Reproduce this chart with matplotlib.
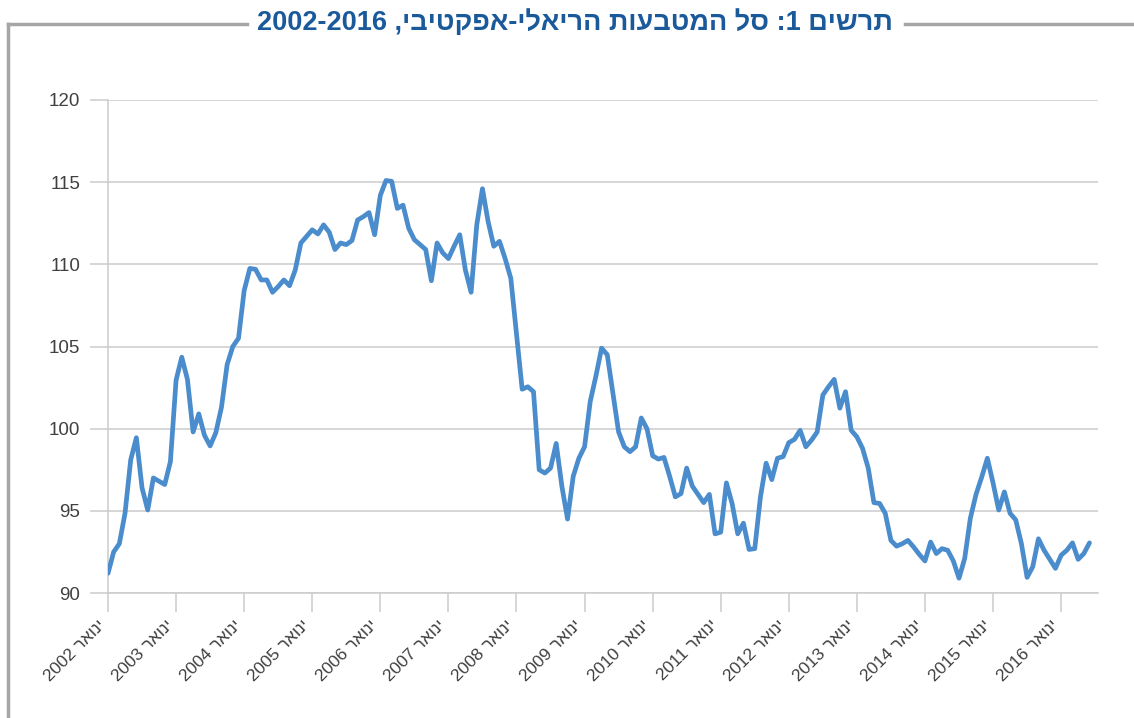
import matplotlib
matplotlib.use("Agg")
import matplotlib.pyplot as plt
from matplotlib.lines import Line2D
import numpy as np

plt.rcParams['font.family'] = ['Liberation Sans', 'DejaVu Sans']

# Monthly values, Jan 2002 - Jun 2016
y2002 = [91.2, 92.5, 93.0, 94.85, 98.1, 99.45, 96.4, 95.05, 97.0, 96.8, 96.6, 98.0]
y2003 = [102.95, 104.35, 103.0, 99.8, 100.9, 99.6, 98.95, 99.75, 101.3, 103.9, 105.0, 105.5]
y2004 = [108.4, 109.75, 109.7, 109.05, 109.05, 108.3, 108.65, 109.05, 108.7, 109.65, 111.3, 111.7]
y2005 = [112.1, 111.85, 112.4, 111.95, 110.9, 111.3, 111.2, 111.45, 112.7, 112.9, 113.15, 111.8]
y2006 = [114.2, 115.1, 115.05, 113.4, 113.6, 112.2, 111.5, 111.2, 110.9, 109.0, 111.3, 110.7]
y2007 = [110.35, 111.1, 111.8, 109.65, 108.3, 112.4, 114.6, 112.6, 111.1, 111.4, 110.35, 109.15]
y2008 = [105.8, 102.4, 102.55, 102.25, 97.5, 97.3, 97.6, 99.1, 96.5, 94.5, 97.1, 98.2]
y2009 = [98.9, 101.65, 103.2, 104.9, 104.5, 102.15, 99.8, 98.9, 98.6, 98.9, 100.65, 100.0]
y2010 = [98.35, 98.15, 98.25, 97.1, 95.85, 96.05, 97.6, 96.5, 96.0, 95.5, 96.0, 93.6]
y2011 = [93.7, 96.7, 95.45, 93.6, 94.25, 92.65, 92.7, 95.85, 97.9, 96.9, 98.2, 98.3]
y2012 = [99.15, 99.35, 99.9, 98.9, 99.3, 99.8, 102.05, 102.55, 103.0, 101.25, 102.25, 99.9]
y2013 = [99.5, 98.8, 97.6, 95.5, 95.45, 94.85, 93.2, 92.85, 93.0, 93.2, 92.8, 92.35]
y2014 = [91.95, 93.1, 92.4, 92.7, 92.6, 91.95, 90.9, 92.1, 94.55, 96.0, 97.05, 98.2]
y2015 = [96.7, 95.05, 96.15, 94.85, 94.45, 93.0, 90.95, 91.6, 93.3, 92.6, 92.05, 91.5]
y2016 = [92.3, 92.6, 93.05, 92.05, 92.4, 93.05]

values = (y2002 + y2003 + y2004 + y2005 + y2006 + y2007 + y2008 + y2009 +
          y2010 + y2011 + y2012 + y2013 + y2014 + y2015 + y2016)

years = list(range(2002, 2017))
# visual-order Hebrew ("ינואר YYYY")
tick_labels = [f"{y} ראוני" for y in years]
y_ticks = [90, 95, 100, 105, 110, 115, 120]

# title in visual order: "תרשים 1: סל המטבעות הריאלי-אפקטיבי, 2002-2016"
title = "2002-2016 ,יביטקפא-ילאירה תועבטמה לס :1 םישרת"

W, H = 1134, 718
fig = plt.figure(figsize=(W / 100, H / 100), dpi=100)
ax = fig.add_axes([108 / W, 1 - 593 / H, (1098 - 108) / W, (593 - 100) / H])

x = np.arange(len(values))
ax.plot(x, values, color='#4a8ccc', lw=3.4, solid_joinstyle='round', solid_capstyle='round', zorder=3)

ax.set_xlim(0, 174.5)
ax.set_ylim(90, 120)
ax.set_yticks(y_ticks)
ax.set_xticks([12 * i for i in range(len(years))])
ax.set_xticklabels(tick_labels, rotation=45, ha='right', va='top')

grid_c = '#cccccc'
ax.grid(axis='y', color=grid_c, lw=1.1, zorder=0)
for s in ['top', 'right']:
    ax.spines[s].set_visible(False)
for s in ['left', 'bottom']:
    ax.spines[s].set_color(grid_c)
    ax.spines[s].set_linewidth(1.1)

ax.tick_params(axis='y', length=13, width=1.1, color=grid_c, pad=7, labelsize=13.5, labelcolor='#404040')
ax.tick_params(axis='x', length=13.5, width=1.1, color=grid_c, pad=4, labelsize=12.5, labelcolor='#404040')
for lab in ax.get_xticklabels():
    lab.set_x(lab.get_position()[0])

# frame
fc = '#a6a6a6'
fig.add_artist(Line2D([8 / W, 8 / W], [1 - 24 / H, 0], transform=fig.transFigure, color=fc, lw=2.5))
fig.add_artist(Line2D([8 / W, 247 / W], [1 - 24 / H, 1 - 24 / H], transform=fig.transFigure, color=fc, lw=2.5))
fig.add_artist(Line2D([905 / W, 1], [1 - 24 / H, 1 - 24 / H], transform=fig.transFigure, color=fc, lw=2.5))

fig.text(575 / W, 1 - 23 / H, title, ha='center', va='center', fontsize=19.5, fontweight='bold',
         color='#1b5a9a')

fig.savefig('out.png', dpi=100, facecolor='white')
